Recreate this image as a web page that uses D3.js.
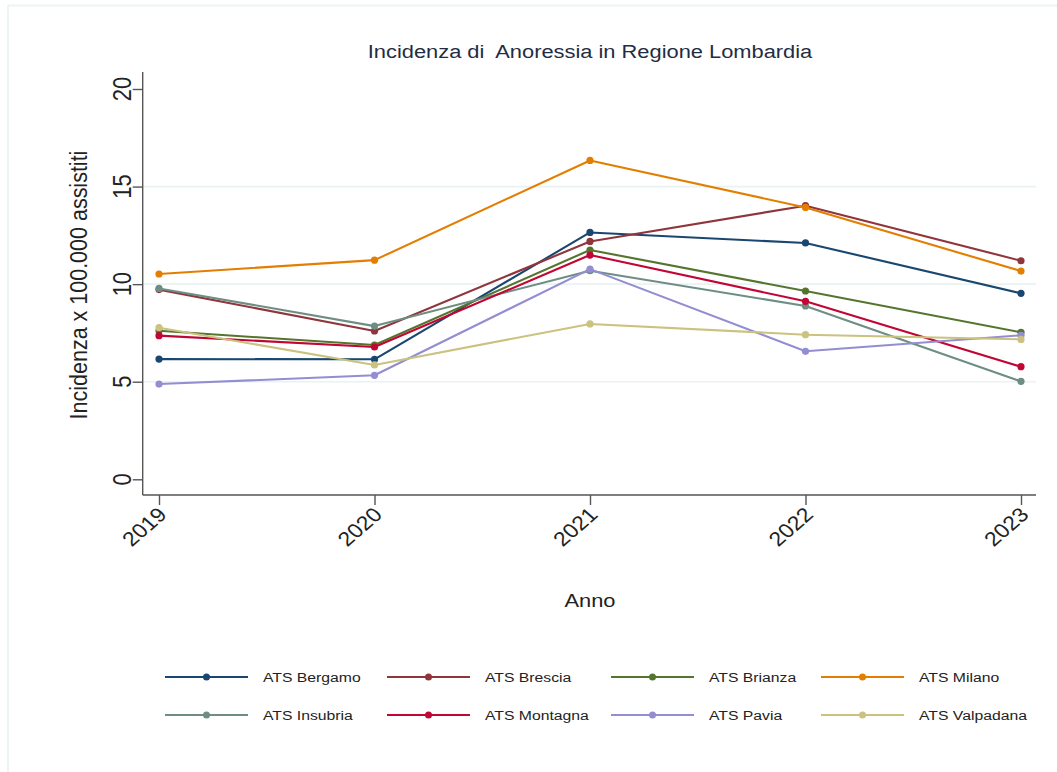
<!DOCTYPE html>
<html>
<head>
<meta charset="utf-8">
<script src="https://cdn.jsdelivr.net/npm/d3@7"></script>
<style>
  html, body { margin: 0; padding: 0; background: #fff; }
  svg { display: block; }
  text { font-family: "Liberation Sans", Arial, sans-serif; white-space: pre; }
</style>
</head>
<body>
<svg id="chart" width="1057" height="772"></svg>
<script>
// ---- data ----
const years = [2019, 2020, 2021, 2022, 2023];
const seriesNames = ["ATS Bergamo", "ATS Brescia", "ATS Brianza", "ATS Milano",
                     "ATS Insubria", "ATS Montagna", "ATS Pavia", "ATS Valpadana"];
const bergamo   = [6.16, 6.15, 12.65, 12.11, 9.53];
const brescia   = [9.72, 7.60, 12.19, 14.02, 11.20];
const brianza   = [7.61, 6.88, 11.75, 9.65, 7.53];
const milano    = [10.52, 11.23, 16.34, 13.93, 10.67];
const insubria  = [9.78, 7.85, 10.69, 8.88, 5.02];
const montagna  = [7.36, 6.78, 11.49, 9.12, 5.77];
const pavia     = [4.88, 5.33, 10.77, 6.56, 7.38];
const valpadana = [7.77, 5.86, 7.96, 7.41, 7.17];
const seriesValues = [bergamo, brescia, brianza, milano, insubria, montagna, pavia, valpadana];
const yTicks = [0, 5, 10, 15, 20];
const gridValues = [5, 10, 15];
const titleText = "Incidenza di  Anoressia in Regione Lombardia";
const yTitleText = "Incidenza x 100.000 assistiti";
const xTitleText = "Anno";

// ---- style ----
const colors = ["#1a476f", "#90353b", "#55752f", "#e37e00", "#6e8e84", "#c10534", "#938dd2", "#cac27e"];
const SX = 1.15;           // horizontal stretch of text in the reference
const textColor = "#222";

const svg = d3.select("#chart");

// outer frame (light)
svg.append("line").attr("x1", 8).attr("x2", 1057).attr("y1", 5.5).attr("y2", 5.5)
  .attr("stroke", "#eef3f3").attr("stroke-width", 2);
svg.append("line").attr("x1", 8).attr("x2", 8).attr("y1", 5).attr("y2", 772)
  .attr("stroke", "#eef3f3").attr("stroke-width", 2);

const x = d3.scaleLinear().domain([2019, 2023]).range([159, 1021]);
const y = d3.scaleLinear().domain([0, 20]).range([479.3, 89]);

const axisX = 142.7, axisY = 495, plotTop = 72, plotRight = 1036;

function stext(g, px, py, angle, str, size, anchor, fill) {
  return g.append("text")
    .attr("transform", `translate(${px},${py}) scale(${SX},1) rotate(${angle})`)
    .attr("text-anchor", anchor || "middle")
    .attr("font-size", size)
    .attr("fill", fill || textColor)
    .text(str);
}

// gridlines
svg.append("g").selectAll("line").data(gridValues).join("line")
  .attr("x1", axisX).attr("x2", plotRight)
  .attr("y1", d => y(d)).attr("y2", d => y(d))
  .attr("stroke", "#eaf2f3").attr("stroke-width", 1.6);

// y axis
const gy = svg.append("g").attr("transform", `translate(${axisX},0)`)
  .call(d3.axisLeft(y).tickValues(yTicks).tickSize(10).tickSizeOuter(0));
gy.select(".domain").remove();
gy.selectAll(".tick line").attr("stroke", "#555").attr("stroke-width", 1.4);
gy.selectAll(".tick text").remove();
svg.append("line").attr("x1", axisX).attr("x2", axisX).attr("y1", plotTop).attr("y2", axisY)
  .attr("stroke", "#555").attr("stroke-width", 1.4);
yTicks.forEach(t => stext(svg, 131, y(t), -90, String(t), 22, "middle"));

// x axis
const gx = svg.append("g").attr("transform", `translate(0,${axisY})`)
  .call(d3.axisBottom(x).tickValues(years).tickFormat(d3.format("d")).tickSize(10).tickSizeOuter(0));
gx.select(".domain").remove();
gx.selectAll(".tick line").attr("stroke", "#555").attr("stroke-width", 1.4);
gx.selectAll(".tick text").remove();
svg.append("line").attr("x1", axisX).attr("x2", plotRight).attr("y1", axisY).attr("y2", axisY)
  .attr("stroke", "#555").attr("stroke-width", 1.4);
years.forEach(yr => stext(svg, x(yr) + 9, 516, -45, String(yr), 20, "end"));

// titles
stext(svg, 590, 58, 0, titleText, 19, "middle", "#1f2d44");
stext(svg, 87, 285, -90, yTitleText, 21.5, "middle");
stext(svg, 590, 607, 0, xTitleText, 19, "middle");

// series
const line = d3.line().x((d, i) => x(years[i])).y(d => y(d));
seriesValues.forEach((vals, si) => {
  const g = svg.append("g");
  g.append("path").datum(vals).attr("d", line)
    .attr("fill", "none").attr("stroke", colors[si]).attr("stroke-width", 2.1)
    .attr("stroke-linejoin", "round");
  g.selectAll("circle").data(vals).join("circle")
    .attr("cx", (d, i) => x(years[i])).attr("cy", d => y(d)).attr("r", 3.6)
    .attr("fill", colors[si]);
});

// legend
const colStarts = [165, 387, 611, 821];
const rowYs = [677, 715];
const lineLen = 83;
seriesNames.forEach((name, i) => {
  const cx = colStarts[i % 4], cy = rowYs[Math.floor(i / 4)];
  svg.append("line").attr("x1", cx).attr("x2", cx + lineLen).attr("y1", cy).attr("y2", cy)
    .attr("stroke", colors[i]).attr("stroke-width", 2.2);
  svg.append("circle").attr("cx", cx + lineLen / 2).attr("cy", cy).attr("r", 3.5).attr("fill", colors[i]);
  stext(svg, cx + 98, cy + 5, 0, name, 13.7, "start");
});
</script>
</body>
</html>
